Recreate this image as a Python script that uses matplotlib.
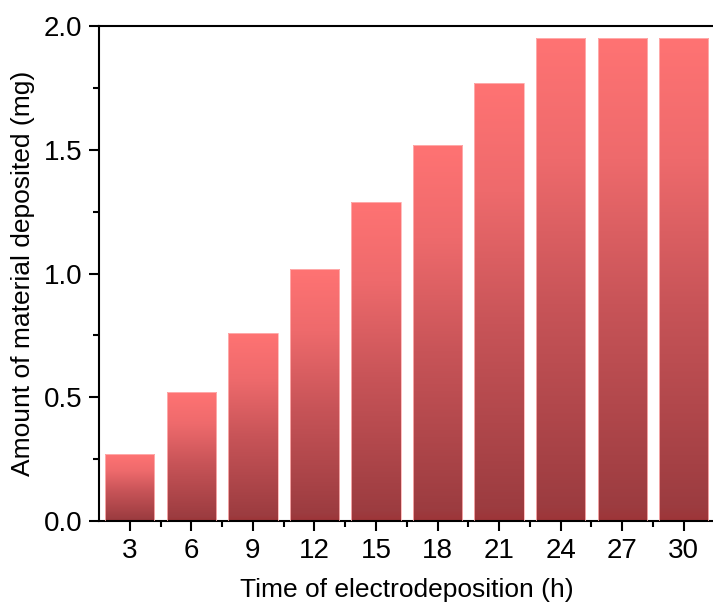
import numpy as np
import matplotlib.pyplot as plt
from matplotlib.colors import LinearSegmentedColormap
from matplotlib.ticker import MultipleLocator

plt.rcParams['font.family'] = ['Liberation Sans', 'DejaVu Sans']

horas = ['3', '6', '9', '12', '15', '18', '21', '24', '27', '30']
massa = [0.27, 0.52, 0.76, 1.02, 1.29, 1.52, 1.77, 1.95, 1.95, 1.95]

fig = plt.figure(figsize=(7.13, 6.06), dpi=100)
ax = fig.add_axes([0.139, 0.140, 0.863, 0.817])

x = np.arange(1, len(horas) + 1)
largura = 0.8
barras = ax.bar(x, massa, width=largura, color='none', edgecolor='#ffb4b4', linewidth=0.6, zorder=3)

# degrade de cada barra: vermelho claro no topo, escuro na base
cmap = LinearSegmentedColormap.from_list(
    'grad', [(0, '#9e3538'), (0.03, '#9c3c40'), (0.45, '#c85458'), (0.75, '#ee6a6c'), (1, '#ff7373')])
grad = np.linspace(0, 1, 256).reshape(-1, 1)
for b in barras:
    x0, w, h = b.get_x(), b.get_width(), b.get_height()
    im = ax.imshow(grad, cmap=cmap, origin='lower', aspect='auto',
                   extent=[x0, x0 + w, 0, h], zorder=2)
    im.set_clip_path(b)

ax.set_xlim(0.5, 10.5)
ax.set_ylim(0, 2.0)
ax.set_xticks(x)
ax.set_xticklabels(horas)
ax.set_xticks(x[:-1] + 0.5, minor=True)
ax.yaxis.set_major_locator(MultipleLocator(0.5))
ax.yaxis.set_minor_locator(MultipleLocator(0.25))
ax.tick_params(which='major', direction='out', length=7, width=1.5, labelsize=20, pad=5)
ax.tick_params(which='minor', direction='out', length=4, width=1.5)
for s in ax.spines.values():
    s.set_linewidth(1.5)

ax.set_xlabel('Time of electrodeposition (h)', fontsize=19, labelpad=10)
ax.set_ylabel('Amount of material deposited (mg)', fontsize=19, labelpad=6)

fig.savefig('out.png', dpi=100)
